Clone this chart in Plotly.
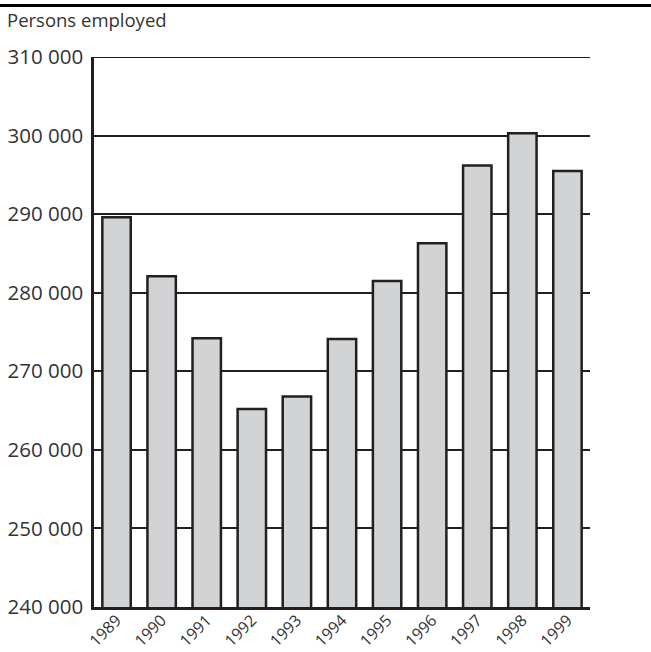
import plotly.graph_objects as go

years = ["1989", "1990", "1991", "1992", "1993", "1994", "1995", "1996", "1997", "1998", "1999"]
persons = [289600, 282100, 274200, 265200, 266800, 274100, 281500, 286300, 296200, 300300, 295500]
y_ticks = [240000, 250000, 260000, 270000, 280000, 290000, 300000, 310000]

dark = "#231f20"
font_family = "Open Sans, Noto Sans, sans-serif"

fig = go.Figure(
    go.Bar(
        x=years,
        y=persons,
        marker=dict(color="#d1d3d4", line=dict(color=dark, width=2.5)),
        width=0.63,
    )
)

fig.update_layout(
    width=651,
    height=652,
    margin=dict(l=94, r=61, t=57, b=45),
    plot_bgcolor="white",
    paper_bgcolor="white",
    separators=". ",
    showlegend=False,
    title=dict(
        text="Persons employed",
        x=7 / 651,
        xref="container",
        xanchor="left",
        y=1 - 21 / 652,
        yref="container",
        yanchor="middle",
        font=dict(family=font_family, size=18.5, color="#333333"),
    ),
    shapes=[
        dict(
            type="line",
            xref="paper",
            yref="paper",
            x0=-94 / 496,
            x1=1 + 61 / 496,
            y0=1 + 51.5 / 550,
            y1=1 + 51.5 / 550,
            line=dict(color="black", width=3),
        ),
        dict(
            type="line",
            xref="paper",
            yref="y",
            x0=0,
            x1=1,
            y0=y_ticks[-1],
            y1=y_ticks[-1],
            line=dict(color=dark, width=2),
            layer="below",
        ),
    ],
)

fig.update_yaxes(
    range=[240000, 310000],
    tickvals=y_ticks,
    tickformat=",d",
    showgrid=True,
    gridcolor=dark,
    gridwidth=2,
    showline=True,
    linecolor=dark,
    linewidth=2.5,
    zeroline=False,
    ticks="",
    ticklabelstandoff=4,
    automargin=False,
    tickfont=dict(family=font_family, size=20.5, color="#333333"),
)

fig.update_xaxes(
    showline=True,
    linecolor=dark,
    linewidth=2.5,
    showgrid=False,
    ticks="",
    tickangle=-45,
    automargin=False,
    ticklabelstandoff=-5,
    tickfont=dict(family=font_family, size=16, color="#333333"),
)

fig.write_html(
    "out.html",
    config={"displayModeBar": False},
    post_script="document.body.style.margin='0';document.body.style.padding='0';",
)
